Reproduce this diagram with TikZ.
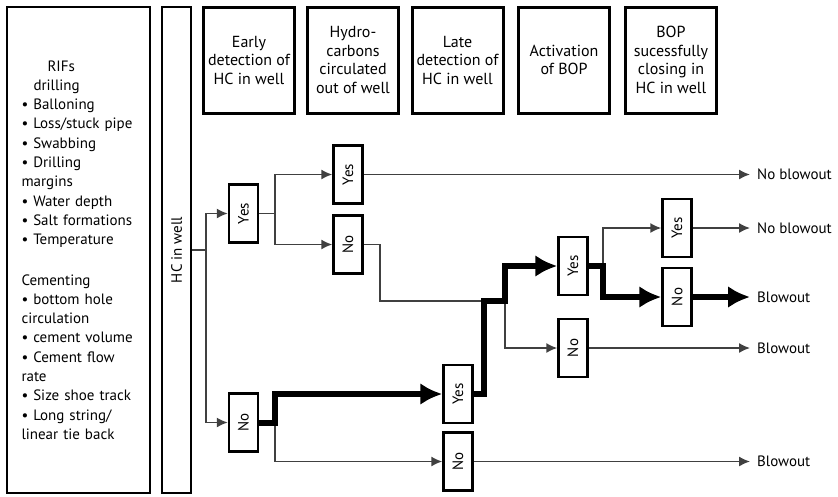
\documentclass[tikz,border=0pt]{standalone}
\usepackage{fontspec}
\setmainfont{PT Sans}
\usepackage{graphicx}
\usetikzlibrary{arrows.meta}
\tikzset{
  factorbox/.style={draw=black,line width=2.5pt,minimum width=143pt,minimum height=486pt,
    inner sep=0pt,text width=114pt,align=left,font=\fontsize{15}{19.3}\selectfont},
  hcbox/.style={draw=black,line width=2.5pt,minimum width=29pt,minimum height=486pt,
    inner sep=0pt,font=\fontsize{15}{18}\selectfont},
  stagebox/.style={draw=black,line width=3pt,minimum width=91pt,minimum height=106pt,
    inner sep=1pt,align=center,font=\fontsize{16}{18.5}\selectfont},
  choicebox/.style={draw=black,line width=2.5pt,minimum width=29pt,minimum height=58pt,
    inner sep=0pt,font=\fontsize{15}{18}\selectfont},
  outcome/.style={anchor=west,inner xsep=7pt,inner ysep=0pt,font=\fontsize{15}{18}\selectfont},
  flowline/.style={draw=black!75,line width=1.5pt},
  flowarrow/.style={flowline,-{Latex[length=11pt,width=10pt]}},
  mainline/.style={draw=black,line width=6pt},
  mainarrow/.style={mainline,-{Latex[length=22pt,width=22pt]}}
}
\begin{document}
\begin{tikzpicture}[x=1pt,y=-1pt]
  \useasboundingbox (0,0) rectangle (838,496);
  \node[factorbox] (rifs) at (78.5,250) {\hspace*{26pt}RIFs\\
    \hspace*{12pt}drilling\\
    • Balloning\\
    • Loss/stuck pipe\\
    • Swabbing\\
    • Drilling\\
    margins\\
    • Water depth\\
    • Salt formations\\
    • Temperature\\[21pt]
    Cementing\\
    • bottom hole\\
    circulation\\
    • cement volume\\
    • Cement flow\\
    rate\\
    • Size shoe track\\
    • Long string/\\
    linear tie back};
  \node[hcbox] (hcwell) at (176.5,250) {\rotatebox{90}{HC in well}};

  \node[stagebox] (early) at (249,60) {Early\\detection of\\HC in well};
  \node[stagebox] (circ) at (353,60) {Hydro-\\carbons\\circulated\\out of well};
  \node[stagebox] (late) at (457.5,60) {Late\\detection of\\HC in well};
  \node[stagebox] (act) at (564,60) {Activation\\of BOP};
  \node[stagebox] (close) at (671,60) {BOP\\sucessfully\\closing in\\HC in well};

  \node[choicebox] (earlyYes) at (243.5,213.5) {\rotatebox{90}{Yes}};
  \node[choicebox] (earlyNo) at (243.5,422.5) {\rotatebox{90}{No}};
  \node[choicebox] (circYes) at (348,174.5) {\rotatebox{90}{Yes}};
  \node[choicebox] (circNo) at (348,244.5) {\rotatebox{90}{No}};
  \node[choicebox] (lateYes) at (458,394) {\rotatebox{90}{Yes}};
  \node[choicebox] (lateNo) at (458,461.5) {\rotatebox{90}{No}};
  \node[choicebox] (actYes) at (573,266) {\rotatebox{90}{Yes}};
  \node[choicebox] (actNo) at (573,348) {\rotatebox{90}{No}};
  \node[choicebox] (closeYes) at (677,228) {\rotatebox{90}{Yes}};
  \node[choicebox] (closeNo) at (677,297) {\rotatebox{90}{No}};

  \node[outcome] (outA) at (750,174.5) {No blowout};
  \node[outcome] (outB) at (750,228) {No blowout};
  \node[outcome] (outC) at (750,297) {Blowout};
  \node[outcome] (outD) at (750,348) {Blowout};
  \node[outcome] (outE) at (750,461.5) {Blowout};

  \coordinate (splitHC) at (206,250);
  \coordinate (splitEarly) at (275,213.5);
  \coordinate (splitNo) at (275,422.5);
  \coordinate (bendCirc) at (380,301);
  \coordinate (joinLate) at (484,301);
  \coordinate (splitLate) at (505,301);
  \coordinate (splitAct) at (603,266);

  \draw[flowline] (hcwell) -- (splitHC);
  \draw[flowarrow] (splitHC) |- (earlyYes.west);
  \draw[flowarrow] (splitHC) |- (earlyNo.west);
  \draw[flowline] (earlyYes.east) -- (splitEarly);
  \draw[flowarrow] (splitEarly) |- (circYes.west);
  \draw[flowarrow] (splitEarly) |- (circNo.west);
  \draw[flowarrow] (circYes.east) -- (outA.west);
  \draw[flowline] (circNo.east) -| (bendCirc) -- (joinLate);
  \draw[flowarrow] (splitNo) |- (lateNo.west);
  \draw[flowarrow] (lateNo.east) -- (outE.west);
  \draw[flowarrow] (splitLate) |- (actNo.west);
  \draw[flowarrow] (actNo.east) -- (outD.west);
  \draw[flowarrow] (splitAct) |- (closeYes.west);
  \draw[flowarrow] (closeYes.east) -- (outB.west);

  \draw[mainarrow] (earlyNo.east) -- (splitNo) |- (lateYes.west);
  \draw[mainarrow] (lateYes.east) -| (joinLate) -- (splitLate) |- (actYes.west);
  \draw[mainarrow] (actYes.east) -- (splitAct) |- (closeNo.west);
  \draw[mainarrow] (closeNo.east) -- (outC.west);
\end{tikzpicture}
\end{document}
